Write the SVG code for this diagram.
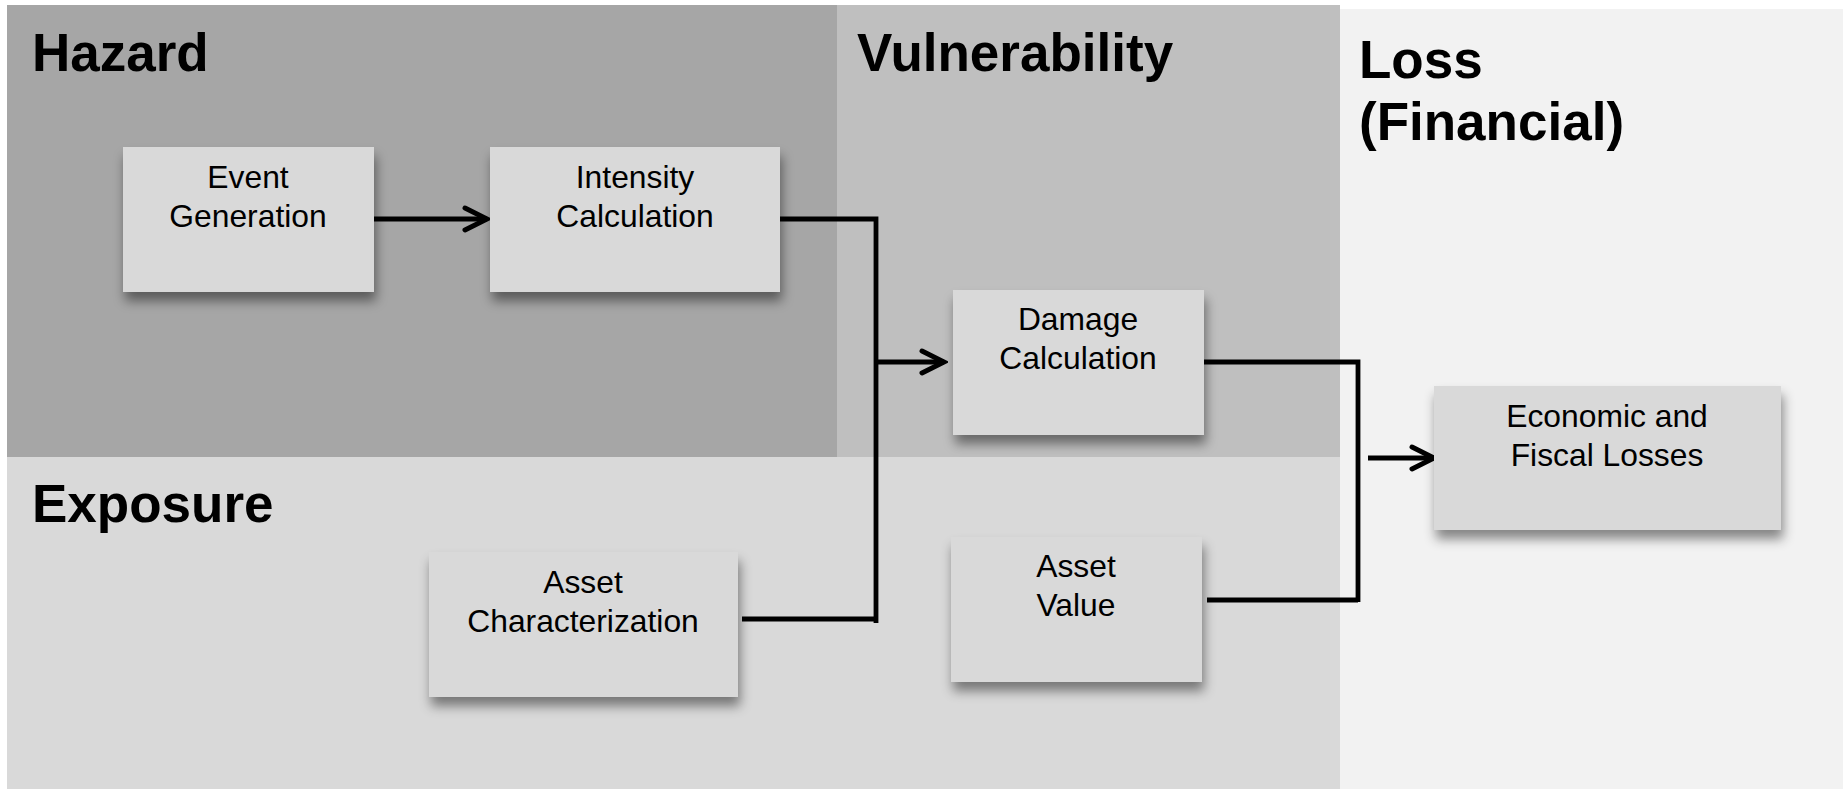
<svg xmlns="http://www.w3.org/2000/svg" width="1846" height="789" viewBox="0 0 1846 789">
  <style>
    .title { font-family: "Liberation Sans", Arial, sans-serif; font-weight: bold; font-size: 53px; fill: #000; }
    .label { font-family: "Liberation Sans", Arial, sans-serif; font-size: 31.8px; fill: #000; text-anchor: middle; }
    .box { fill: #d9d9d9; filter: url(#shadow); }
    .wire { fill: none; stroke: #000; stroke-width: 4.8; }
  </style>
  <defs>
    <filter id="shadow" x="-20%" y="-20%" width="150%" height="160%">
      <feDropShadow dx="2" dy="9" stdDeviation="6" flood-color="#000" flood-opacity="0.45"/>
    </filter>
    <marker id="head" markerUnits="userSpaceOnUse" viewBox="-28 -16 32 32" markerWidth="32" markerHeight="32" refX="0" refY="0" orient="auto">
      <path d="M-22,-11 L0,0 L-22,11" fill="none" stroke="#000" stroke-width="5" stroke-linecap="round" stroke-linejoin="miter"/>
    </marker>
  </defs>

  <rect width="1846" height="789" fill="#fff"/>

  <!-- background bands -->
  <g id="regions">
    <rect x="1340" y="9" width="503" height="780" fill="#f2f2f2"/>
    <rect x="7" y="457" width="1333" height="332" fill="#d9d9d9"/>
    <rect x="7" y="5" width="830" height="452" fill="#a6a6a6"/>
    <rect x="837" y="5" width="503" height="452" fill="#bfbfbf"/>
    <text class="title" x="32" y="71">Hazard</text>
    <text class="title" x="857" y="71">Vulnerability</text>
    <text class="title" x="1359" y="78">Loss</text>
    <text class="title" x="1359" y="140">(Financial)</text>
    <text class="title" x="32" y="522">Exposure</text>
  </g>

  <!-- connectors -->
  <g id="connectors">
    <path class="wire" d="M374,219 H487" marker-end="url(#head)"/>
    <path class="wire" d="M780,219 H876 V623"/>
    <path class="wire" d="M742,619 H876"/>
    <path class="wire" d="M876,362 H944" marker-end="url(#head)"/>
    <path class="wire" d="M1204,362 H1358 V602"/>
    <path class="wire" d="M1207,600 H1358"/>
    <path class="wire" d="M1368,458 H1434" marker-end="url(#head)"/>
  </g>

  <g id="event-generation">
    <rect class="box" x="123" y="147" width="251" height="145"/>
    <text class="label" x="248" y="188">Event</text>
    <text class="label" x="248" y="227">Generation</text>
  </g>

  <g id="intensity-calculation">
    <rect class="box" x="490" y="147" width="290" height="145"/>
    <text class="label" x="635" y="188">Intensity</text>
    <text class="label" x="635" y="227">Calculation</text>
  </g>

  <g id="damage-calculation">
    <rect class="box" x="953" y="290" width="251" height="145"/>
    <text class="label" x="1078" y="330">Damage</text>
    <text class="label" x="1078" y="369">Calculation</text>
  </g>

  <g id="asset-characterization">
    <rect class="box" x="429" y="552" width="309" height="145"/>
    <text class="label" x="583" y="593">Asset</text>
    <text class="label" x="583" y="632">Characterization</text>
  </g>

  <g id="asset-value">
    <rect class="box" x="951" y="537" width="251" height="145"/>
    <text class="label" x="1076" y="577">Asset</text>
    <text class="label" x="1076" y="616">Value</text>
  </g>

  <g id="economic-fiscal-losses">
    <rect class="box" x="1434" y="386" width="347" height="144"/>
    <text class="label" x="1607" y="427">Economic and</text>
    <text class="label" x="1607" y="466">Fiscal Losses</text>
  </g>
</svg>
